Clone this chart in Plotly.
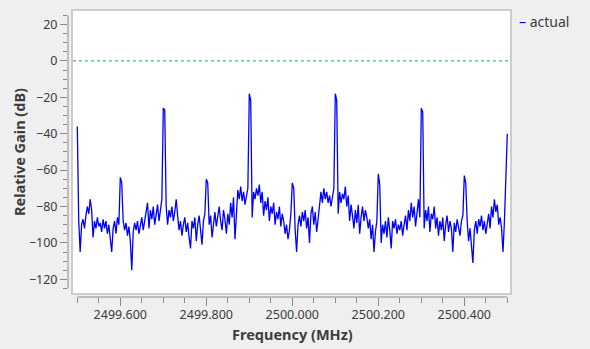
import numpy as np
import plotly.graph_objects as go

# ---- data -------------------------------------------------------------
f_start, f_stop = 2499.5, 2500.5          # MHz, span of the FFT
tick_vals = [2499.6, 2499.8, 2500.0, 2500.2, 2500.4]
tick_text = ["2499.600", "2499.800", "2500.000", "2500.200", "2500.400"]
y_ticks = [20, 0, -20, -40, -60, -80, -100, -120]

gain_db = [
    # 2499.5 - 2499.6
    -36, -88, -105, -90, -87, -92, -85, -80, -84, -76, -82, -97, -88, -92, -86,
    -91, -89, -94, -87, -92, -88, -95, -90, -97, -105, -92, -88, -95, -86, -90,
    # 2499.6 - 2499.7
    -64, -67, -88, -93, -89, -96, -91, -99, -115, -94, -89, -93, -88, -95, -90,
    -86, -93, -88, -84, -78, -92, -82, -87, -80, -90, -84, -79, -88, -83, -76,
    # 2499.7 - 2499.8
    -26, -27, -80, -90, -82, -86, -80, -88, -83, -76, -85, -93, -88, -96, -90,
    -86, -94, -89, -97, -103, -88, -92, -86, -99, -90, -85, -93, -101, -88, -84,
    # 2499.8 - 2499.9
    -65, -67, -90, -85, -97, -88, -83, -91, -84, -80, -88, -93, -82, -87, -95,
    -84, -90, -78, -86, -75, -98, -80, -71, -76, -69, -77, -72, -79, -73, -70,
    # 2499.9 - 2500.0
    -18, -22, -86, -72, -76, -70, -74, -68, -78, -72, -85, -77, -82, -75, -88,
    -80, -84, -78, -90, -83, -87, -80, -91, -84, -88, -95, -90, -98, -93, -84,
    # 2500.0 - 2500.1
    -67, -70, -93, -105, -90, -85, -91, -83, -88, -82, -92, -86, -100, -84, -80,
    -90, -83, -94, -87, -80, -72, -78, -70, -76, -72, -78, -74, -80, -74, -70,
    # 2500.1 - 2500.2
    -18, -22, -84, -72, -78, -73, -76, -69, -80, -74, -88, -79, -85, -92, -82,
    -89, -79, -95, -86, -80, -88, -82, -86, -92, -87, -98, -90, -105, -94, -88,
    # 2500.2 - 2500.3
    -62, -68, -100, -90, -95, -88, -97, -86, -93, -103, -88, -92, -87, -95, -90,
    -93, -88, -96, -90, -85, -93, -82, -88, -78, -86, -80, -91, -83, -76, -86,
    # 2500.3 - 2500.4
    -26, -28, -92, -82, -88, -80, -94, -84, -87, -80, -92, -86, -96, -88, -93,
    -86, -99, -90, -85, -94, -88, -92, -105, -89, -94, -87, -92, -96, -88, -85,
    # 2500.4 - 2500.5
    -63, -67, -88, -99, -92, -103, -111, -93, -88, -95, -87, -91, -85, -93, -88,
    -95, -90, -84, -92, -80, -86, -76, -83, -79, -90, -86, -92, -105, -88, -60,
    -40,
]
freq_mhz = np.linspace(f_start, f_stop, len(gain_db))

# ---- style ------------------------------------------------------------
BG = "#efefef"
TXT = "#3c3c3c"
AX = "#8a8a8a"
FONT = "Noto Sans"

W, H = 590, 349
L, R, T, B = 68, 79, 10, 52          # plotly plot area: x 68..511, y 10..297
px_per_mhz = 430.0
x_left = f_start - (77.3 - 68) / px_per_mhz
x_right = f_stop + (511 - 507.3) / px_per_mhz
px_per_db = 1.82
y0_px = 60.9
y_top = (y0_px - 10) / px_per_db
y_bot = -(297 - y0_px) / px_per_db
pw, ph = W - L - R, H - T - B

fig = go.Figure()
fig.add_trace(go.Scatter(
    x=freq_mhz, y=gain_db, mode="lines", name="actual",
    line=dict(color="#0000ff", width=1.3), showlegend=False,
))

shapes = [
    # white canvas with frame
    dict(type="rect", xref="paper", yref="paper", x0=4 / pw, x1=1.0,
         y0=3 / ph, y1=1.0, fillcolor="white",
         line=dict(color="#cdcdcd", width=2), layer="below"),
    # dotted reference line at 0 dB
    dict(type="line", xref="paper", yref="y", x0=5 / pw, x1=0.997, y0=0, y1=0,
         line=dict(color="#1a9a9a", width=1, dash="dot")),
    # y axis backbone
    dict(type="line", xref="paper", yref="y", x0=0, x1=0, y0=-125, y1=25,
         line=dict(color=AX, width=1)),
    # x axis backbone
    dict(type="line", xref="x", yref="paper", x0=f_start, x1=f_stop, y0=0, y1=0,
         line=dict(color=AX, width=1)),
]

annotations = [
    dict(text="Frequency (MHz)", xref="x", yref="paper", x=2500.0,
         y=(297 - 334) / ph, xanchor="center", yanchor="middle", showarrow=False,
         borderpad=0,
         font=dict(family=FONT, size=14.5, color=TXT, weight="bold")),
    dict(text="Relative Gain (dB)", xref="paper", yref="y", x=(19 - L) / pw,
         y=-50, textangle=-90, xanchor="center", yanchor="middle", showarrow=False,
         font=dict(family=FONT, size=14.5, color=TXT, weight="bold")),
    dict(text="<span style='color:#0000ff'>–</span> actual", xref="paper",
         yref="paper", x=(517 - L) / pw, y=(297 - 21.5) / ph, xanchor="left",
         yanchor="middle", showarrow=False,
         font=dict(family=FONT, size=14, color=TXT)),
]

fig.update_layout(
    width=W, height=H,
    margin=dict(l=L, r=R, t=T, b=B, pad=0),
    paper_bgcolor=BG, plot_bgcolor=BG,
    font=dict(family=FONT, size=12.5, color=TXT),
    shapes=shapes, annotations=annotations, showlegend=False,
    xaxis=dict(range=[x_left, x_right], showgrid=False, zeroline=False,
               showline=False, tickmode="array", tickvals=tick_vals,
               ticktext=tick_text, ticks="outside", ticklen=8, tickwidth=1,
               tickcolor=AX, ticklabelstandoff=-2,
               minor=dict(dtick=0.05, tick0=f_start, ticks="outside",
                          ticklen=5, tickcolor=AX, showgrid=False)),
    yaxis=dict(range=[y_bot, y_top], showgrid=False, zeroline=False,
               showline=False, tickmode="array", tickvals=y_ticks,
               ticks="outside", ticklen=7, tickwidth=1, tickcolor=AX,
               minor=dict(dtick=5, tick0=0, ticks="outside", ticklen=4,
                          tickcolor=AX, showgrid=False)),
)

fig.write_html("out.html")
